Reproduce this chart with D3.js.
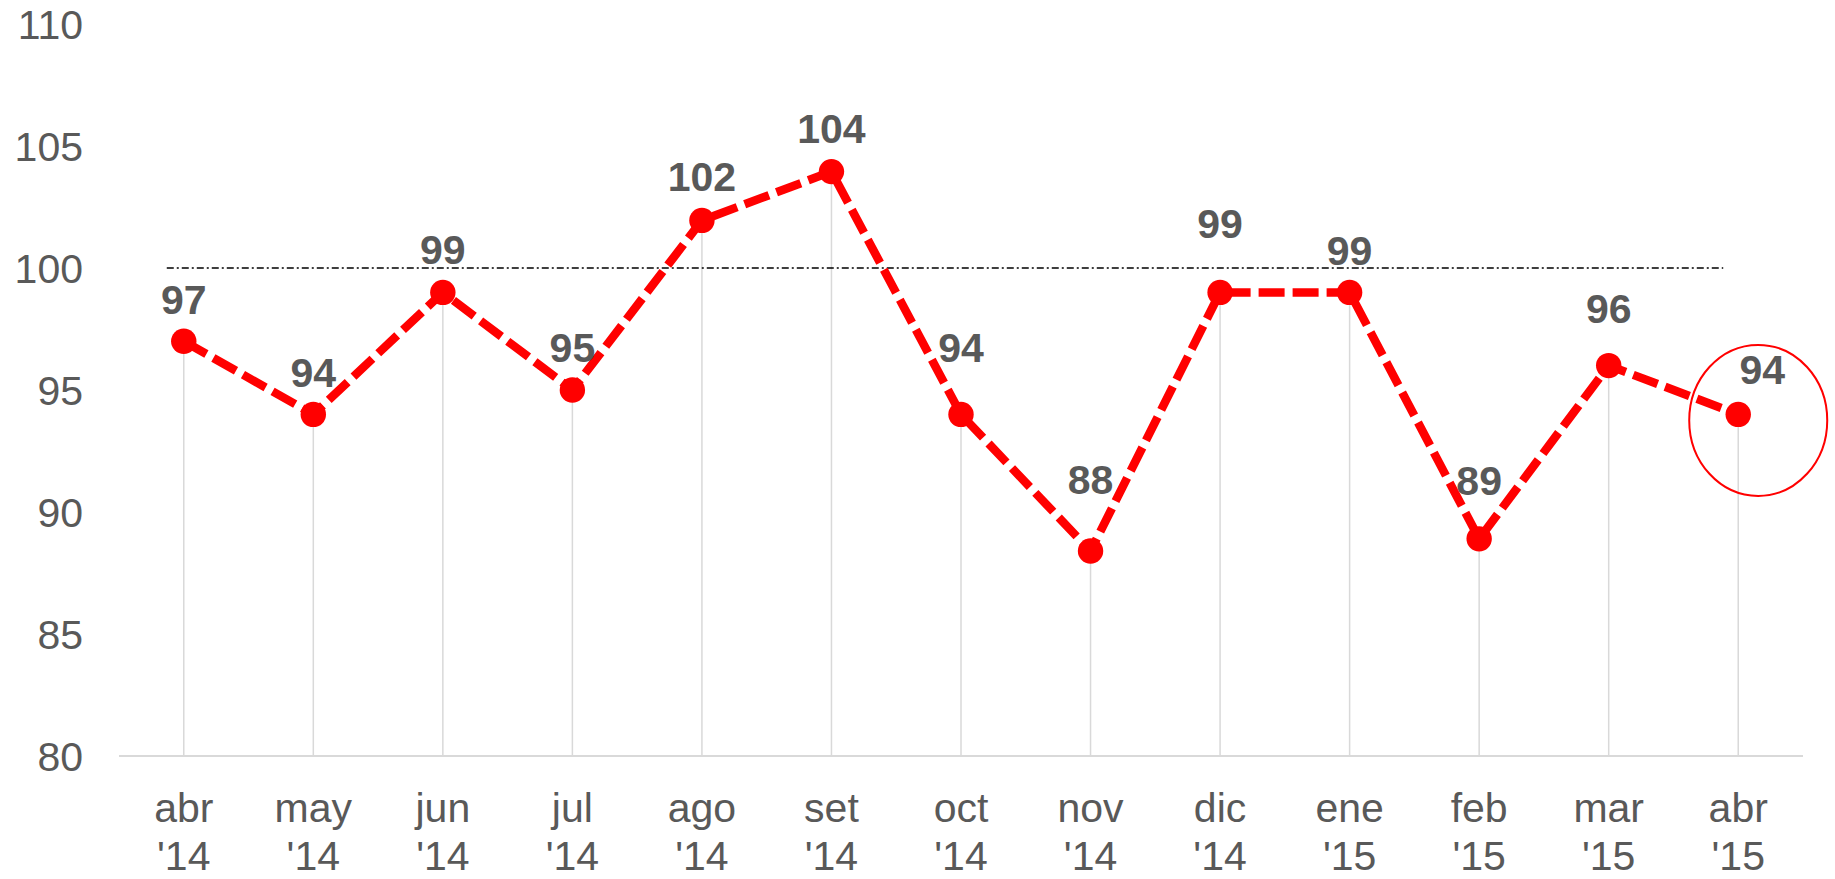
<!DOCTYPE html>
<html lang="es">
  <head>
    <meta charset="UTF-8" />
    <title>Indice</title>
    <script src="https://d3js.org/d3.v7.min.js"></script>
    <style>
      body { margin: 0; background: #fff; }
      text { font-family: "Liberation Sans", Arial, sans-serif; fill: #595959; }
    </style>
  </head>
  <body>
    <svg width="1835" height="879"></svg>
    <script>
      // data
      const months = ["abr", "may", "jun", "jul", "ago", "set", "oct", "nov", "dic", "ene", "feb", "mar", "abr"];
      const years = ["'14", "'14", "'14", "'14", "'14", "'14", "'14", "'14", "'14", "'15", "'15", "'15", "'15"];
      const values = [97, 94, 99, 95, 101.95, 103.95, 94, 88.4, 99, 99, 88.9, 96, 94];
      const yTicks = [80, 85, 90, 95, 100, 105, 110];
      const reference = 100;

      // how far each value label sits above its point (moved by hand in the original)
      const labelLift = [27, 27, 28, 28, 29, 29, 52, 57, 54, 27, 44, 43, 30];

      const svg = d3.select("svg");
      const keys = months.map((m, i) => i);

      const x = d3.scaleBand().domain(keys).range([119, 1803]).padding(0);
      const cx = i => x(i) + x.bandwidth() / 2;
      const y = d3.scaleLinear().domain([80, 110]).range([756, 24]);

      // y axis labels
      svg.append("g")
        .selectAll("text")
        .data(yTicks)
        .enter()
        .append("text")
        .attr("x", 83)
        .attr("y", d => y(d))
        .attr("dy", "0.36em")
        .attr("text-anchor", "end")
        .style("font-size", "41px")
        .text(d => d);

      // drop lines
      svg.append("g")
        .selectAll("line")
        .data(values)
        .enter()
        .append("line")
        .attr("x1", (d, i) => cx(i))
        .attr("x2", (d, i) => cx(i))
        .attr("y1", d => y(d))
        .attr("y2", y(80))
        .attr("stroke", "#d9d9d9")
        .attr("stroke-width", 1.5);

      // baseline
      svg.append("line")
        .attr("x1", x.range()[0])
        .attr("x2", x.range()[1])
        .attr("y1", y(80))
        .attr("y2", y(80))
        .attr("stroke", "#d9d9d9")
        .attr("stroke-width", 2);

      // x labels
      const xl = svg.append("g")
        .selectAll("text")
        .data(keys)
        .enter()
        .append("text")
        .attr("text-anchor", "middle")
        .style("font-size", "41px");
      xl.append("tspan").attr("x", d => cx(d)).attr("y", 822).text(d => months[d]);
      xl.append("tspan").attr("x", d => cx(d)).attr("y", 870).text(d => years[d]);

      // reference line at 100
      svg.append("line")
        .attr("x1", cx(0) - 17)
        .attr("x2", cx(keys.length - 1) - 15)
        .attr("y1", y(reference))
        .attr("y2", y(reference))
        .attr("stroke", "#000")
        .attr("stroke-width", 1.4)
        .attr("stroke-dasharray", "7,3,2,3");

      // main series
      const line = d3.line()
        .x((d, i) => cx(i))
        .y(d => y(d));

      svg.append("path")
        .datum(values)
        .attr("d", line)
        .attr("fill", "none")
        .attr("stroke", "#ff0000")
        .attr("stroke-width", 8.5)
        .attr("stroke-dasharray", "26,8");

      svg.append("g")
        .selectAll("circle")
        .data(values)
        .enter()
        .append("circle")
        .attr("cx", (d, i) => cx(i))
        .attr("cy", d => y(d))
        .attr("r", 12.7)
        .attr("fill", "#ff0000");

      // value labels
      svg.append("g")
        .selectAll("text")
        .data(values)
        .enter()
        .append("text")
        .attr("x", (d, i) => cx(i) + (i === values.length - 1 ? 24 : 0))
        .attr("y", (d, i) => y(d) - labelLift[i])
        .attr("text-anchor", "middle")
        .style("font-size", "41px")
        .style("font-weight", "bold")
        .text(d => Math.round(d));

      // highlight around the latest value
      const last = values.length - 1;
      svg.append("ellipse")
        .attr("cx", cx(last) + 20)
        .attr("cy", y(values[last]) + 6)
        .attr("rx", 69)
        .attr("ry", 75.5)
        .attr("fill", "none")
        .attr("stroke", "#ff0000")
        .attr("stroke-width", 2);
    </script>
  </body>
</html>
